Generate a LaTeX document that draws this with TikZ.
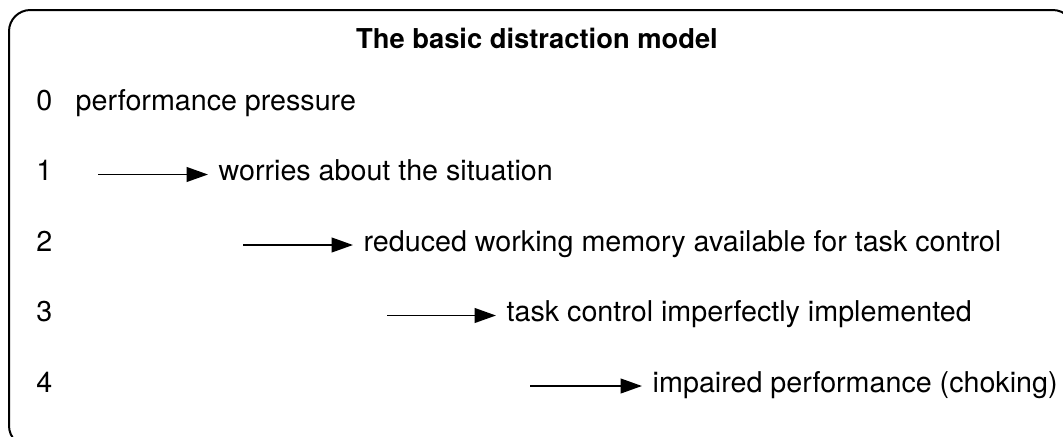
\documentclass[tikz,border=0pt]{standalone}
\usepackage{fontspec}
\setmainfont{TeX Gyre Heros}
\usetikzlibrary{arrows.meta}

\begin{document}
\begin{tikzpicture}[x=0.75pt,y=-0.75pt,
  txt/.style={inner sep=0pt,outer xsep=8pt,anchor=base west,font=\fontsize{21.5}{25}\selectfont},
  num/.style={inner sep=0pt,anchor=base west,font=\fontsize{21.5}{25}\selectfont},
  arr/.style={line width=1.4pt,-{Triangle[length=16pt,width=11pt]}}]
 \useasboundingbox (0,0) rectangle (1063,436);
 \clip (0,0) rectangle (1063,436);
 \draw[line width=1.5pt,rounded corners=16] (9,10) rectangle (1074,447);
 \node[inner sep=0pt,anchor=base,font=\fontsize{20.5}{24}\selectfont\bfseries] (title) at (537,48) {The basic distraction model};
 \node[num] (n0) at (36,110) {0};
 \node[txt] (t0) at (65,110) {performance pressure};
 \foreach \i/\xa/\xt/\lbl in {1/98/208/worries about the situation,
   2/243/353/reduced working memory available for task control,
   3/387/496/task control imperfectly implemented,
   4/530/642/impaired performance (choking)}{
   \node[num] (n\i) at (36,110+70.5*\i) {\i};
   \node[txt] (t\i) at (\xt,110+70.5*\i) {\lbl};
   \coordinate (s\i) at (\xa,104+70.5*\i);
   \draw[arr] (s\i) -- (s\i -| t\i.west);
 }
\end{tikzpicture}
\end{document}
